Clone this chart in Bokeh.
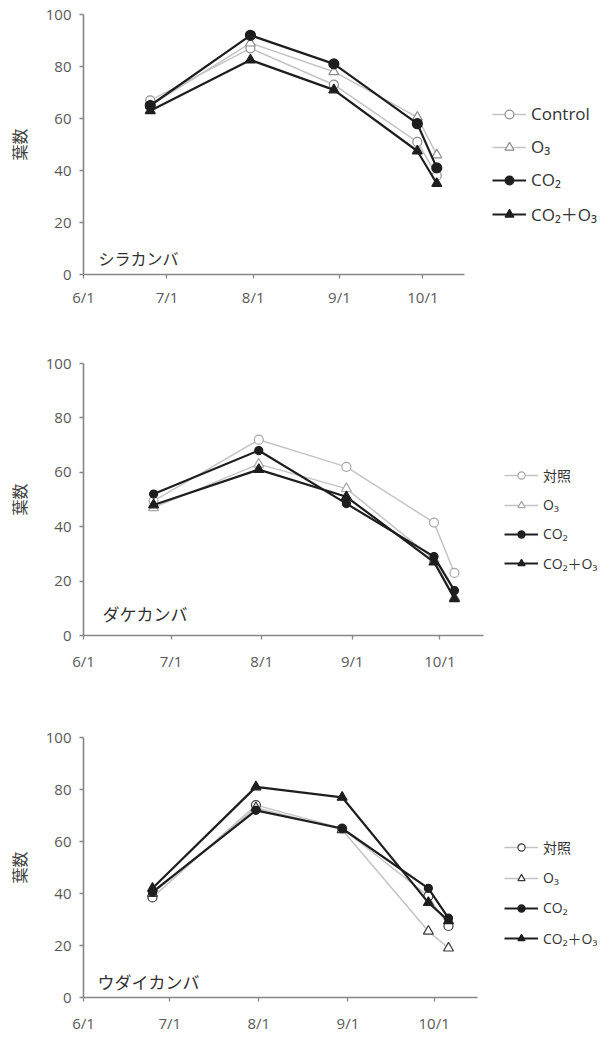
from datetime import date
from bokeh.plotting import figure
from bokeh.layouts import column
from bokeh.models import Range1d, FixedTicker, Legend, LegendItem, Label
from bokeh.embed import file_html
from bokeh.resources import INLINE

# ---------------- data ----------------
tick_dates = ["6/1", "7/1", "8/1", "9/1", "10/1"]
sample_dates = ["6/25", "7/31", "8/30", "9/29", "10/6"]
y_ticks = [0, 20, 40, 60, 80, 100]
y_label = "葉数"

labels_en = ["Control", "O₃", "CO₂", "CO₂＋O₃"]
labels_ja = ["対照", "O₃", "CO₂", "CO₂＋O₃"]

# シラカンバ
shira_control = [67, 87, 73, 51, 38]
shira_o3 = [65, 89, 78, 60.5, 46]
shira_co2 = [65, 92, 81, 58, 41]
shira_co2o3 = [63, 82.5, 71, 47.5, 35]

# ダケカンバ
dake_control = [49.5, 72, 62, 41.5, 23]
dake_o3 = [47, 63, 54, 28, 14]
dake_co2 = [52, 68, 48.5, 29, 16.5]
dake_co2o3 = [48, 61, 51, 27, 13.5]

# ウダイカンバ
udai_control = [38.5, 74, 65, 39, 27.5]
udai_o3 = [40, 73, 64.5, 25.5, 19]
udai_co2 = [40.5, 72, 65, 42, 30.5]
udai_co2o3 = [42, 81, 77, 36.5, 29.5]


def day(s):
    m, d = map(int, s.split("/"))
    return (date(2010, m, d) - date(2010, 6, 1)).days


tick_x = [day(s) for s in tick_dates]
sample_x = [day(s) for s in sample_dates]

NUM_FONT = "'Open Sans', 'Noto Sans CJK JP', sans-serif"
JP_FONT = "'Noto Sans CJK JP', sans-serif"
LIGHT = "#c4c4c4"
DARK = "#1e1e1e"
AXIS = "#868686"

FIG_W = 613


def make_panel(name, series, labels, g):
    frame_w = FIG_W - g["left"]
    x_end = frame_w / g["px_per_day"]
    p = figure(width=FIG_W, height=g["height"], output_backend="svg",
               toolbar_location=None, x_range=Range1d(0, x_end),
               y_range=Range1d(0, 100),
               min_border_left=g["left"], min_border_right=0,
               min_border_top=g["top"], min_border_bottom=g["bottom"])
    p.outline_line_color = None
    p.grid.visible = False
    p.background_fill_color = "white"

    xa = p.xaxis[0]
    xa.ticker = FixedTicker(ticks=tick_x)
    xa.major_label_overrides = {t: s for t, s in zip(tick_x, tick_dates)}
    xa.bounds = (0, 137)
    ya = p.yaxis[0]
    ya.ticker = FixedTicker(ticks=y_ticks)
    ya.bounds = (0, 100)
    for ax in (xa, ya):
        ax.axis_line_color = AXIS
        ax.axis_line_width = 1.6
        ax.major_tick_line_color = AXIS
        ax.major_tick_line_width = 1.3
        ax.major_tick_out = 4
        ax.major_tick_in = 0
        ax.minor_tick_line_color = None
        ax.major_label_text_font = NUM_FONT
        ax.major_label_text_font_size = "15px"
        ax.major_label_text_color = "#595959"
    xa.major_label_standoff = g["xstand"]
    ya.major_label_standoff = 8
    ya.axis_label = y_label
    ya.axis_label_text_font = JP_FONT
    ya.axis_label_text_font_style = "normal"
    ya.axis_label_text_font_size = "16px"
    ya.axis_label_text_color = "#404040"
    ya.axis_label_standoff = 12

    control, o3, co2, co2o3 = series
    lmk = g["light_mk"]
    styles = [
        (control, "circle", "white", lmk, LIGHT, 1.5, 9),
        (o3, "triangle", "white", lmk, LIGHT, 1.5, 10),
        (co2, "circle", DARK, DARK, DARK, 2.2, g["co2_size"]),
        (co2o3, "triangle", DARK, DARK, DARK, 2.2, 10),
    ]
    items = []
    for (vals, mk, fill, mline, lcol, lw, sz), lab in zip(styles, labels):
        lr = p.line(sample_x, vals, line_color=lcol, line_width=lw)
        sr = p.scatter(sample_x, vals, marker=mk, size=sz, fill_color=fill,
                       line_color=mline, line_width=1.2)
        items.append(LegendItem(label=lab, renderers=[lr, sr]))

    leg = Legend(items=items, location=g["leg_loc"], orientation="vertical",
                 padding=0, margin=0, border_line_color=None,
                 background_fill_alpha=0, glyph_width=34,
                 glyph_height=g["gh"], label_height=g["gh"],
                 spacing=g["sp"], label_standoff=5,
                 label_text_font=NUM_FONT,
                 label_text_font_size=g["leg_fs"],
                 label_text_color="#333333")
    p.add_layout(leg)

    p.add_layout(Label(x=g["name_xy"][0], y=g["name_xy"][1],
                       x_units="screen", y_units="screen", text=name,
                       text_font=JP_FONT, text_font_size=g["name_fs"],
                       text_color="#303030", text_baseline="middle"))
    return p


g1 = dict(height=318, top=14, bottom=44, left=82, px_per_day=2.787, xstand=8,
          leg_loc=(409, 48), gh=22, sp=10, leg_fs="17px", name_xy=(15, 17),
          name_fs="16px", light_mk="#8c8c8c", co2_size=10)
g2 = dict(height=357, top=45, bottom=40, left=79, px_per_day=2.943, xstand=11,
          leg_loc=(421, 62), gh=18, sp=10, leg_fs="14px", name_xy=(19, 22),
          name_fs="17px", light_mk="#a6a6a6", co2_size=8)
g3 = dict(height=360, top=62, bottom=34, left=83, px_per_day=2.874, xstand=11,
          leg_loc=(421, 49), gh=18, sp=11, leg_fs="14px", name_xy=(14, 16),
          name_fs="17px", light_mk="#3a3a3a", co2_size=8)

p1 = make_panel("シラカンバ", [shira_control, shira_o3, shira_co2, shira_co2o3],
                labels_en, g1)
p2 = make_panel("ダケカンバ", [dake_control, dake_o3, dake_co2, dake_co2o3],
                labels_ja, g2)
p3 = make_panel("ウダイカンバ", [udai_control, udai_o3, udai_co2, udai_co2o3],
                labels_ja, g3)

layout = column(p1, p2, p3, spacing=0)
open("out.html", "w").write(file_html(layout, INLINE))
